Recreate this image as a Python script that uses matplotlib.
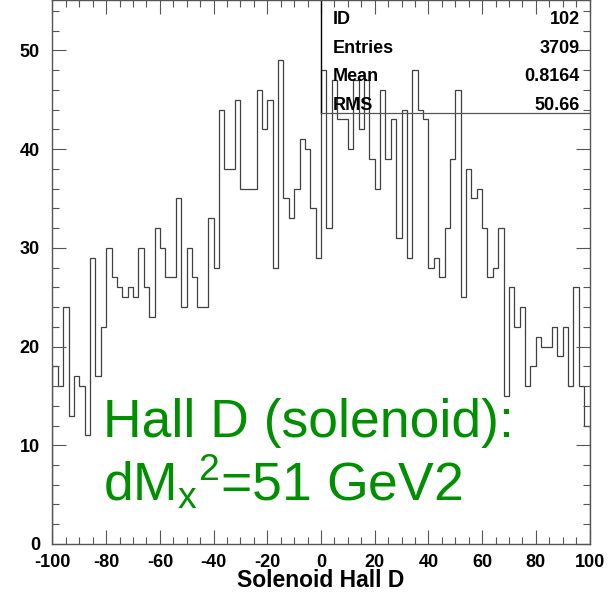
import numpy as np
import matplotlib.pyplot as plt
from matplotlib.ticker import MultipleLocator

plt.rcParams['font.family'] = ['Liberation Sans', 'DejaVu Sans']
plt.rcParams['mathtext.default'] = 'regular'
plt.rcParams['axes.unicode_minus'] = False

# bin contents, 100 bins of width 2 from -100 to 100
counts = [18, 16, 24, 13, 17, 16, 11, 29, 17, 22,
          30, 27, 26, 25, 26, 25, 30, 26, 23, 32,
          30, 27, 27, 35, 24, 30, 27, 24, 24, 33,
          28, 44, 38, 38, 45, 36, 36, 36, 46, 42,
          45, 28, 49, 35, 33, 36, 41, 40, 34, 29,
          48, 32, 47, 43, 43, 40, 47, 42, 47, 39,
          36, 46, 39, 43, 31, 44, 29, 48, 44, 43,
          28, 29, 27, 32, 39, 46, 25, 38, 35, 36,
          32, 27, 28, 32, 15, 26, 22, 24, 16, 18,
          21, 20, 20, 22, 19, 22, 16, 26, 16, 12]
edges = np.linspace(-100, 100, 101)

stat_names = ['ID', 'Entries', 'Mean', 'RMS']
stat_values = ['102', '3709', '0.8164', '50.66']

fig = plt.figure(figsize=(6.08, 5.92), dpi=100)
ax = fig.add_axes([0.0863, 0.0811, 0.8833, 0.9189])

ax.stairs(counts, edges, baseline=0, color='#404040', lw=0.9)

ax.set_xlim(-100, 100)
ax.set_ylim(0, 55.1)
ax.xaxis.set_major_locator(MultipleLocator(20))
ax.xaxis.set_minor_locator(MultipleLocator(5))
ax.yaxis.set_major_locator(MultipleLocator(10))
ax.yaxis.set_minor_locator(MultipleLocator(2))
ax.tick_params(which='both', direction='in', top=True, right=True,
               color='#555555', width=0.8)
ax.tick_params(which='major', length=10)
ax.tick_params(which='minor', length=5)
ax.tick_params(axis='x', which='major', pad=7, labelsize=13)
ax.tick_params(axis='y', which='major', pad=9, labelsize=13)
for lab in ax.get_xticklabels() + ax.get_yticklabels():
    lab.set_fontweight('bold')
for sp in ax.spines.values():
    sp.set_color('#555555')
    sp.set_linewidth(1.0)

ax.set_xlabel('Solenoid Hall D', fontsize=16.5, fontweight='bold', labelpad=-1)

# statistics box in the upper right corner
box_bottom = 0.792
ax.plot([0.5, 0.5], [box_bottom, 1], transform=ax.transAxes, color='black', lw=1)
ax.plot([0.5, 1], [box_bottom, box_bottom], transform=ax.transAxes,
        color='#555555', lw=0.9)
for i, (name, val) in enumerate(zip(stat_names, stat_values)):
    yy = 0.964 - i * 0.0527
    ax.text(0.522, yy, name, transform=ax.transAxes, fontsize=13,
            fontweight='bold', ha='left', va='center')
    ax.text(0.982, yy, val, transform=ax.transAxes, fontsize=13,
            fontweight='bold', ha='right', va='center')

green = '#008f00'
fig.text(0.169, 0.262, 'Hall D (solenoid):', color=green, fontsize=38.5,
         ha='left', va='baseline')
fig.text(0.169, 0.155, r'dM$_{x}$$^{2}$=51 GeV2', color=green, fontsize=38.5,
         ha='left', va='baseline')

fig.savefig('out.png', dpi=100)
